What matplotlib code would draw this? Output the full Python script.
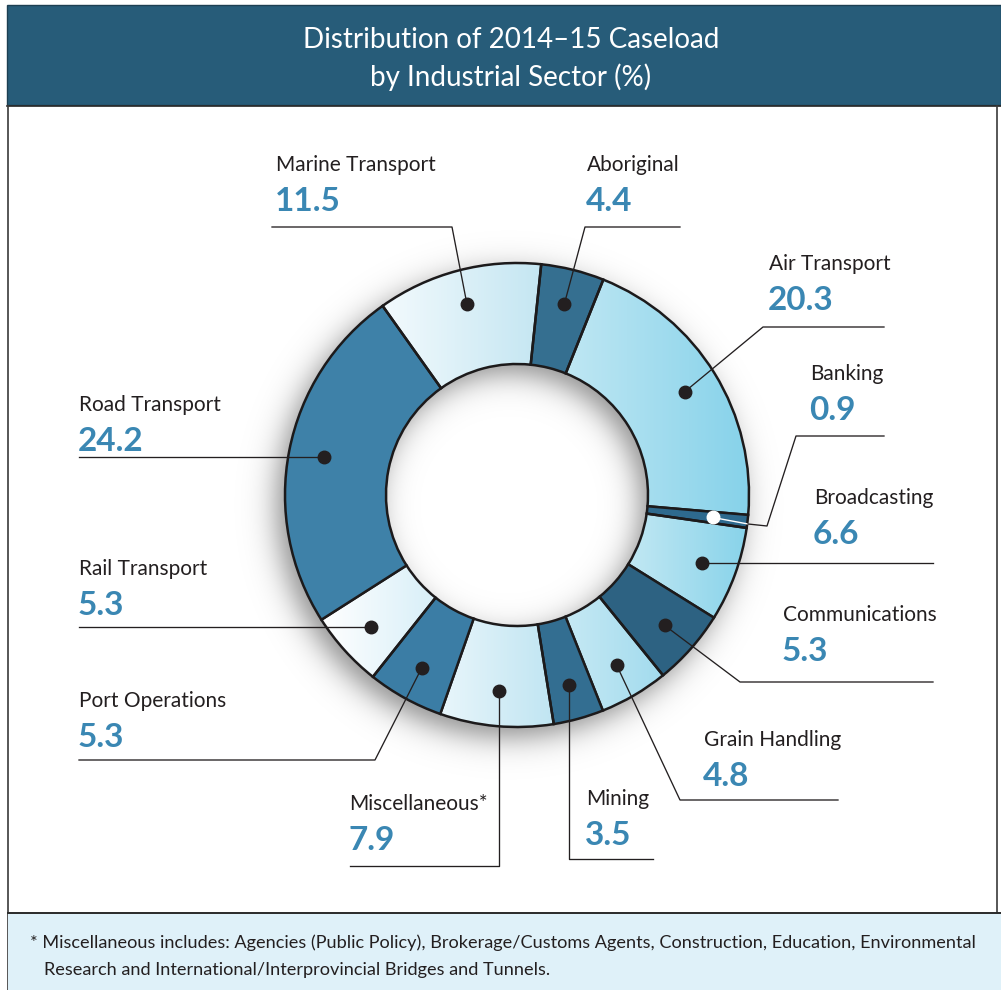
import numpy as np
import matplotlib
matplotlib.use('Agg')
import matplotlib.pyplot as plt
from matplotlib.colors import LinearSegmentedColormap
from matplotlib.patches import Rectangle

W, H = 1001, 990

# sectors clockwise from just right of the top
sectors = ['Aboriginal', 'Air Transport', 'Banking', 'Broadcasting', 'Communications',
           'Grain Handling', 'Mining', 'Miscellaneous*', 'Port Operations',
           'Rail Transport', 'Road Transport', 'Marine Transport']
shares = [4.4, 20.3, 0.9, 6.6, 5.3, 4.8, 3.5, 7.9, 5.3, 5.3, 24.2, 11.5]
share_labels = ['4.4', '20.3', '0.9', '6.6', '5.3', '4.8', '3.5', '7.9', '5.3', '5.3', '24.2', '11.5']

# (left colour, right colour); None means a flat fill
fills = [('#356f90', None), ('#bfe7f3', '#86d2ea'), ('#2e6a8e', None),
         ('#c2e8f3', '#88d3ea'), ('#2d6282', None), ('#c6e9f4', '#a2dbee'),
         ('#336e91', None), ('#e9f6fb', '#c0e5f2'), ('#3b7da5', None),
         ('#ffffff', '#d8eff8'), ('#3e81a8', None), ('#f3fafd', '#c4e6f2')]

# label anchor (x, baseline of name) and leader elbow points in pixels
label_pos = [(587, 171), (769, 270), (810, 380), (814, 504), (783, 621), (704, 746),
             (586, 805), (349, 810), (79, 707), (79, 575), (79, 411), (276, 171)]
leaders = [[(585, 227), (680, 227)],
           [(763, 327), (884, 327)],
           [(767, 526), (796, 436), (884, 436)],
           [('y', 933)],
           [(740, 682), (933, 682)],
           [(680, 800), (838, 800)],
           [('x', 859), (653, 859)],
           [('x', 866), (350, 866)],
           [(375, 760), (79, 760)],
           [('y', 79)],
           [('y', 79)],
           [(452, 227), (272, 227)]]

cx, cy, R, r_in, r_dot = 517, 495, 232, 131, 197
start = -84  # data angle; y axis is flipped so this sits 6 deg right of top

title_font = ['Liberation Sans Narrow', 'Lato', 'DejaVu Sans']
text_dark = '#231f20'
num_blue = '#3a87b3'

fig = plt.figure(figsize=(W / 100, H / 100), dpi=100)
ax = fig.add_axes([0, 0, 1, 1])
ax.axis('off')

# soft shadow of the ring, shifted left and down
yy, xx = np.mgrid[0:H, 0:W] + 0.5
d = np.hypot(xx - (cx - 8), yy - (cy + 10))
sig = lambda t: 1.0 / (1.0 + np.exp(-t))
s = 9.0
shade = sig((R - d) / s) - sig((r_in - d) / s)
rgba = np.zeros((H, W, 4))
rgba[..., 3] = 0.45 * shade
ax.imshow(rgba, extent=(0, W, H, 0), zorder=1, interpolation='bilinear')

wedges, _ = ax.pie(shares, radius=R, center=(cx, cy), startangle=start,
                   counterclock=True, frame=True,
                   wedgeprops=dict(width=R - r_in, edgecolor='#1c1a1b',
                                   linewidth=1.8, zorder=3))

grad = np.linspace(0, 1, 256).reshape(1, -1)
for w, (c0, c1) in zip(wedges, fills):
    w.set_zorder(3)
    if c1 is None:
        w.set_facecolor(c0)
        continue
    w.set_facecolor('none')
    x0, y0, x1, y1 = w.get_path().get_extents().extents
    cm = LinearSegmentedColormap.from_list('g', [c0, c1])
    im = ax.imshow(grad, cmap=cm, extent=(x0, x1, y1, y0), aspect='auto',
                   interpolation='bilinear', zorder=2)
    im.set_clip_path(w)

# leader lines, dots and labels
cum = np.cumsum([0] + shares[:-1])
for i, name in enumerate(sectors):
    phi = np.deg2rad(start + 3.6 * (cum[i] + shares[i] / 2))
    dx, dy = cx + r_dot * np.cos(phi), cy + r_dot * np.sin(phi)
    pts = [(dx, dy)]
    for p in leaders[i]:
        if p[0] == 'y':
            pts.append((p[1], dy))
        elif p[0] == 'x':
            pts.append((dx, p[1]))
        else:
            pts.append(p)
    xs, ys = zip(*pts)
    if name == 'Banking':
        ax.plot([dx, xs[1] - 19], [dy, ys[1] - 2], color='white', lw=1.0, zorder=5)
        ax.plot([xs[1] - 19] + list(xs[1:]), [ys[1] - 2] + list(ys[1:]),
                color=text_dark, lw=0.95, zorder=5)
        ax.plot(dx, dy, 'o', ms=9, color='white', zorder=6)
    else:
        ax.plot(xs, ys, color=text_dark, lw=0.95, zorder=5)
        ax.plot(dx, dy, 'o', ms=9, color=text_dark, zorder=6)
    lx, ly = label_pos[i]
    ax.text(lx, ly, name, fontsize=15, family=['Lato', 'DejaVu Sans'],
            color=text_dark, va='baseline', ha='left', zorder=7)
    ax.text(lx - 1, ly + 40, share_labels[i], fontsize=24, fontweight='bold',
            family=['Lato', 'DejaVu Sans'], color=num_blue, va='baseline',
            ha='left', zorder=7)

# header band, frame and footnote box
ax.add_patch(Rectangle((7, 5), W - 7, 100, facecolor='#275c79',
                       edgecolor='#1d3f52', lw=1.0, zorder=8))
ax.plot([7, W], [106, 106], color='#2a2a2a', lw=1.2, zorder=8)
ax.plot([8, 8], [106, H], color='#3a3a3a', lw=1.2, zorder=8)
ax.plot([997, 997], [106, 913], color='#3a3a3a', lw=1.2, zorder=8)
ax.add_patch(Rectangle((8, 913), W - 8, H - 913, facecolor='#dff1f9',
                       edgecolor='none', zorder=8))
ax.plot([8, W], [913, 913], color='#2a2a2a', lw=1.4, zorder=9)

ax.text(511, 40, 'Distribution of 2014\u201315 Caseload', fontsize=20, color='white',
        family=title_font, ha='center', va='center', zorder=9)
ax.text(511, 77, 'by Industrial Sector (%)', fontsize=20, color='white',
        family=title_font, ha='center', va='center', zorder=9)

ax.text(30, 948, '* Miscellaneous includes: Agencies (Public Policy), Brokerage/Customs Agents, '
        'Construction, Education, Environmental', fontsize=13.1, color=text_dark,
        family=title_font, ha='left', va='baseline', zorder=9)
ax.text(44, 975, 'Research and International/Interprovincial Bridges and Tunnels.',
        fontsize=13.1, color=text_dark, family=title_font, ha='left',
        va='baseline', zorder=9)

ax.set_xlim(0, W)
ax.set_ylim(H, 0)
ax.set_aspect('auto')
fig.savefig('out.png', dpi=100)
